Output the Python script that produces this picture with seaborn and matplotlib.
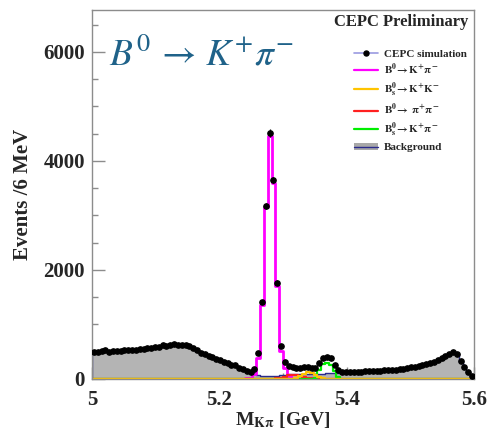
import numpy as np
import pandas as pd
import matplotlib
matplotlib.use("Agg")
import matplotlib.pyplot as plt
import seaborn as sns
from matplotlib.lines import Line2D
from matplotlib.patches import Patch
from matplotlib.ticker import MultipleLocator

# 100 bins of 6 MeV from 5.0 to 5.6 GeV
n_bins = 100
mass_range = (5.0, 5.6)
bin_centers = np.linspace(5.0, 5.6, n_bins + 1)[:-1] + 0.003

# background (grey filled histogram)
background = [480, 495, 510, 520, 505, 500, 510, 520, 525, 530,
              535, 530, 545, 550, 560, 565, 580, 600, 610, 605,
              625, 640, 630, 625, 630, 600, 570, 520, 490, 460,
              420, 390, 370, 335, 315, 295, 270, 250, 215, 175,
              140, 110, 90, 70, 60, 55, 50, 55, 60, 70,
              80, 90, 95, 95, 95, 90, 90, 95, 95, 100,
              100, 105, 105, 110, 115, 120, 125, 125, 130, 130,
              135, 140, 140, 145, 140, 150, 155, 160, 165, 175,
              180, 195, 200, 215, 225, 240, 250, 275, 280, 320,
              340, 390, 420, 470, 490, 460, 320, 220, 130, 60]

# CEPC simulation points
data_counts = [490, 500, 505, 525, 500, 505, 515, 515, 530, 525,
               540, 525, 550, 545, 565, 560, 585, 595, 615, 600,
               630, 645, 625, 630, 625, 605, 565, 525, 485, 465,
               415, 395, 365, 340, 310, 300, 265, 255, 210, 180,
               145, 120, 176, 470, 1418, 3180, 4514, 3650, 1767, 611,
               306, 239, 214, 200, 196, 215, 226, 205, 196, 288,
               380, 395, 380, 257, 165, 135, 130, 125, 135, 128,
               135, 145, 138, 150, 142, 152, 158, 160, 170, 172,
               185, 192, 205, 212, 228, 238, 255, 272, 285, 318,
               345, 385, 425, 465, 495, 455, 325, 215, 135, 55]

# signal components (non-zero window, first bin index)
kpi_first, kpi_vals = 40, [10, 15, 90, 390, 1350, 3150, 4450, 3600, 1700, 520, 200, 60, 20]
pipi_first, pipi_vals = 47, [5, 10, 25, 45, 65, 75, 70, 55, 35, 20, 10, 5]
kk_first, kk_vals = 52, [5, 20, 50, 95, 120, 110, 70, 30, 10]
bskpi_first, bskpi_vals = 58, [15, 160, 270, 290, 260, 150, 30]


def component(first, vals):
    h = np.zeros(n_bins)
    h[first:first + len(vals)] = vals
    return h


df = pd.DataFrame({
    "mass": bin_centers,
    "bkg": np.array(background, dtype=float),
    "kpi": component(kpi_first, kpi_vals),
    "pipi": component(pipi_first, pipi_vals),
    "kk": component(kk_first, kk_vals),
    "bskpi": component(bskpi_first, bskpi_vals),
    "data": np.array(data_counts, dtype=float),
})

sns.set_style("ticks")
plt.rcParams["font.family"] = ["Liberation Serif", "DejaVu Serif"]
plt.rcParams["font.weight"] = "normal"
plt.rcParams["mathtext.fontset"] = "stix"

fig = plt.figure(figsize=(4.93, 4.32), dpi=100)
ax = fig.add_axes([0.1866, 0.1227, 0.7749, 0.8542])

c_bkg_fill = "#b4b4b4"
c_bkg_line = "#2a2a8c"
c_kpi = "#ff00ff"
c_kk = "#ffc400"
c_pipi = "#ff2020"
c_bskpi = "#00ee00"

sns.histplot(data=df, x="mass", weights="bkg", bins=n_bins, binrange=mass_range,
             element="step", fill=True, color=c_bkg_fill, alpha=1,
             edgecolor=c_bkg_line, linewidth=1.0, ax=ax)
sns.histplot(data=df, x="mass", weights="kpi", bins=n_bins, binrange=mass_range,
             element="step", fill=False, color=c_kpi, linewidth=2.0, ax=ax)
sns.histplot(data=df, x="mass", weights="pipi", bins=n_bins, binrange=mass_range,
             element="step", fill=False, color=c_pipi, linewidth=1.6, ax=ax)
sns.histplot(data=df, x="mass", weights="bskpi", bins=n_bins, binrange=mass_range,
             element="step", fill=False, color=c_bskpi, linewidth=1.6, ax=ax)
sns.histplot(data=df, x="mass", weights="kk", bins=n_bins, binrange=mass_range,
             element="step", fill=False, color=c_kk, linewidth=1.6, ax=ax)

ax.errorbar(df["mass"], df["data"], yerr=np.sqrt(df["data"]), xerr=0.003,
            fmt="o", ms=3.8, color="black", ecolor="black", elinewidth=0.9,
            capsize=0, zorder=5)

ax.set_xlim(5.0, 5.6)
ax.set_ylim(0, 6770)
ax.set_xticks([5.0, 5.2, 5.4, 5.6])
ax.set_xticklabels(["5", "5.2", "5.4", "5.6"])
ax.set_yticks([0, 2000, 4000, 6000])
ax.yaxis.set_minor_locator(MultipleLocator(500))
ax.xaxis.set_minor_locator(MultipleLocator(0.05))
ax.tick_params(axis="both", which="major", direction="in", length=9,
               width=1, color="#8c8c8c", labelsize=15, pad=5)
ax.tick_params(axis="both", which="minor", direction="in", length=4.5,
               width=1, color="#8c8c8c")
ax.tick_params(axis="x", which="major", pad=8)
for lab in ax.get_xticklabels() + ax.get_yticklabels():
    lab.set_fontweight("bold")
for sp in ax.spines.values():
    sp.set_visible(True)
    sp.set_color("#8c8c8c")
    sp.set_linewidth(1.0)

ax.set_ylabel("Events /6 MeV", fontsize=15, fontweight="bold")
ax.yaxis.set_label_coords(-0.155, 0.5)
ax.set_xlabel(r"M$_{\mathbf{K\pi}}$ [GeV]", fontsize=14, fontweight="bold", labelpad=0)

ax.text(0.984, 0.967, "CEPC Preliminary", transform=ax.transAxes,
        ha="right", va="center", fontsize=12, fontweight="bold")
ax.text(0.045, 0.85, r"$B^0\,\rightarrow\,K^{+}\pi^{-}$", transform=ax.transAxes,
        ha="left", va="baseline", fontsize=27, color="#1f6289")

handles = [
    Line2D([0], [0], color="#9a9ae0", lw=1.2, marker="o", ms=3.6,
           mfc="black", mec="black"),
    Line2D([0], [0], color=c_kpi, lw=1.6),
    Line2D([0], [0], color=c_kk, lw=1.6),
    Line2D([0], [0], color=c_pipi, lw=1.6),
    Line2D([0], [0], color=c_bskpi, lw=1.6),
    (Patch(facecolor="#a8a8a8", edgecolor="none"), Line2D([0], [0], color=c_bkg_line, lw=1.0)),
]
labels = [
    "CEPC simulation",
    r"$\mathbf{B^0\!\rightarrow K^{+}\pi^{-}}$",
    r"$\mathbf{B_s^0\!\rightarrow K^{+}K^{-}}$",
    r"$\mathbf{B^0\!\rightarrow\ \pi^{+}\pi^{-}}$",
    r"$\mathbf{B_s^0\!\rightarrow K^{+}\pi^{-}}$",
    "Background",
]
ax.legend(handles, labels, loc="upper left", bbox_to_anchor=(0.67, 0.91),
          frameon=False, handlelength=2.2, handletextpad=0.5,
          labelspacing=0.32, borderpad=0, prop={"weight": "bold", "size": 8})

fig.savefig("out.png", dpi=100)
